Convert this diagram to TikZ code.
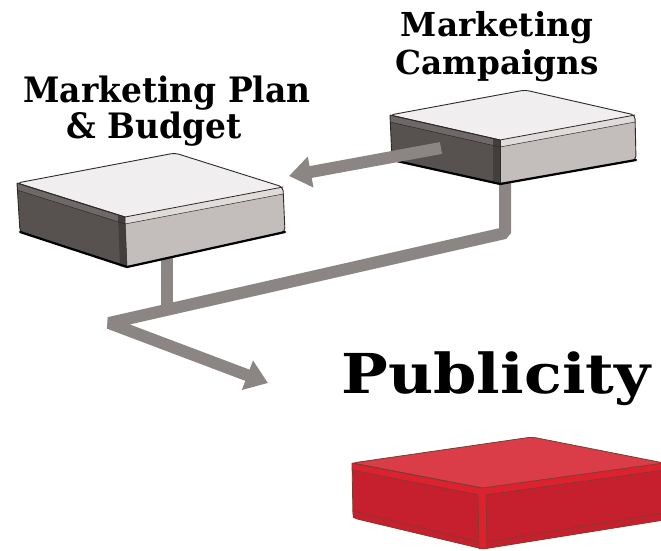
\documentclass[tikz,border=0pt]{standalone}
\usepackage{fontspec}
\newfontfamily\headfont{DejaVu Serif}
\usetikzlibrary{arrows.meta,calc}
\definecolor{arrowgray}{HTML}{8B8683}
\definecolor{gTop}{HTML}{F0EEEE}
\definecolor{gLeft}{HTML}{57514F}
\definecolor{gLeftB}{HTML}{6E6967}
\definecolor{gRight}{HTML}{C3BEBC}
\definecolor{gRightB}{HTML}{DFDCDA}
\definecolor{gCorner}{HTML}{433E3D}
\definecolor{gLine}{HTML}{2D2A29}
\definecolor{rTop}{HTML}{DA3C48}
\definecolor{rSide}{HTML}{C6202E}
\definecolor{rBevel}{HTML}{DC222F}
\definecolor{rLine}{HTML}{7A3D2F}

\newcommand{\greybox}[1]{%
  \fill[gTop] (#1L) -- (#1B) -- (#1R) -- (#1F) -- cycle;
  \fill[gLeft] (#1L) -- (#1F) -- (#1Fb) -- (#1Lb) -- cycle;
  \fill[gRight] (#1F) -- (#1R) -- (#1Rb) -- (#1Fb) -- cycle;
  \fill[gLeftB] (#1L) -- (#1F) -- ($(#1F)+(0,7)$) -- ($(#1L)+(0,7)$) -- cycle;
  \fill[gRightB] (#1F) -- (#1R) -- ($(#1R)+(0,7)$) -- ($(#1F)+(0,7)$) -- cycle;
  \fill[gCorner] ($(#1F)+(-7,-1)$) -- (#1F) -- (#1Fb) -- ($(#1Fb)+(-7,-1)$) -- cycle;
  \draw[gLine, line width=0.8pt] (#1L) -- (#1F) -- (#1R);
  \draw[gLine, line width=0.5pt] ($(#1L)+(0,7)$) -- ($(#1F)+(0,7)$) -- ($(#1R)+(0,7)$);
  \draw[gLine, line width=0.5pt] (#1F) -- (#1Fb);
  \draw[gLine, line width=0.9pt, rounded corners=4pt] (#1F) -- (#1L) -- (#1B) -- (#1R) -- (#1Rb) -- (#1Fb) -- (#1Lb) -- (#1L);
  \draw[black, line width=2.2pt, line cap=round] (#1Lb) -- (#1Fb) -- (#1Rb);
}

\begin{document}
\begin{tikzpicture}[x=1pt,y=-1pt, line join=round,
  conn/.style={draw=arrowgray, line width=12pt},
  tipped/.style={-{Triangle[length=22pt,width=30pt]}},
  heading/.style={font=\headfont\bfseries, align=center, inner sep=0pt}]
\useasboundingbox (0,0) rectangle (661,550);

% --- box coordinates
\coordinate (aL) at (17,183);  \coordinate (aB) at (175,153);
\coordinate (aR) at (283,187); \coordinate (aF) at (125,217);
\coordinate (aLb) at (20,232); \coordinate (aFb) at (127,267); \coordinate (aRb) at (285,232);

\coordinate (bL) at (390,115); \coordinate (bB) at (525,90);
\coordinate (bR) at (635,115); \coordinate (bF) at (500,140);
\coordinate (bLb) at (392,160); \coordinate (bFb) at (500,184); \coordinate (bRb) at (636,160);

\coordinate (cL) at (352,463); \coordinate (cB) at (532,437);
\coordinate (cR) at (664,463); \coordinate (cF) at (482,488);
\coordinate (cLb) at (353,518); \coordinate (cFb) at (483,549); \coordinate (cRb) at (664,520);

% --- connector points
\coordinate (aOut) at (167,255);
\coordinate (j3) at (167,310);
\coordinate (bOut) at (505,175);
\coordinate (j1) at (505,233);
\coordinate (j2) at (109,323);
\coordinate (pubTip) at (268,383);
\coordinate (bFace) at (441,148);
\coordinate (planTip) at (289,176);

% --- connectors behind boxes
\draw[conn] (aOut) -- (j3);
\draw[conn, tipped, line join=bevel] (bOut) -- (j1) -- (j2) -- (pubTip);

% --- grey boxes
\greybox{a}
\greybox{b}

% --- arrow from campaigns to plan
\draw[conn, tipped] (bFace) -- (planTip);

% --- red box
\fill[rTop] (cL) -- (cB) -- (cR) -- (cF) -- cycle;
\fill[rSide] (cL) -- (cF) -- (cFb) -- (cLb) -- cycle;
\fill[rSide] (cF) -- (cR) -- (cRb) -- (cFb) -- cycle;
\fill[rBevel] (cL) -- (cF) -- ($(cF)+(0,7)$) -- ($(cL)+(0,7)$) -- cycle;
\fill[rBevel] (cF) -- (cR) -- ($(cR)+(0,7)$) -- ($(cF)+(0,7)$) -- cycle;
\fill[rBevel] ($(cF)+(-4,0)$) -- ($(cF)+(4,0)$) -- ($(cFb)+(4,0)$) -- ($(cFb)+(-4,0)$) -- cycle;
\draw[rLine, line width=0.7pt] (cL) -- (cF) -- (cR);
\draw[rLine, line width=0.6pt] ($(cL)+(0,7)$) -- ($(cF)+(-4,7)$);
\draw[rLine, line width=0.6pt] ($(cF)+(4,7)$) -- ($(cR)+(0,7)$);
\draw[rLine, line width=0.6pt] ($(cF)+(-4,7)$) -- ($(cFb)+(-4,0)$);
\draw[rLine, line width=0.6pt] ($(cF)+(4,7)$) -- ($(cFb)+(4,0)$);
\draw[rLine, line width=0.6pt] ($(cLb)+(0,-7)$) -- ($(cFb)+(-4,-7)$);
\draw[rLine, line width=0.6pt] ($(cFb)+(4,-7)$) -- ($(cRb)+(0,-7)$);
\draw[rLine, line width=0.8pt, rounded corners=4pt] (cF) -- (cL) -- (cB) -- (cR) -- (cRb) -- (cFb) -- (cLb) -- (cL);

% --- texts
\node[heading, font=\headfont\bfseries\fontsize{35}{36}\selectfont, xscale=0.94] (plan) at (167,111) {Marketing Plan\\\& Budget\hspace*{27pt}};
\node[heading, font=\headfont\bfseries\fontsize{33}{38}\selectfont, xscale=0.99] (camp) at (497,47) {Marketing\\Campaigns};
\node[font=\headfont\bfseries\fontsize{55}{55}\selectfont, xscale=1.13, anchor=base, inner sep=0pt] (pub) at (496,393) {Publicity};
\end{tikzpicture}
\end{document}
